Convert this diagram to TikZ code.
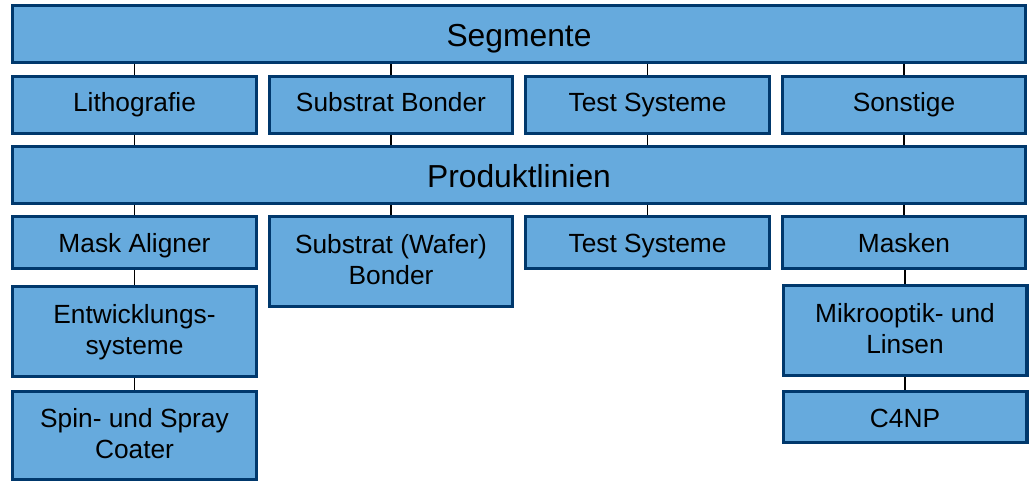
\documentclass[tikz,border=0pt]{standalone}
\usepackage{fontspec}
\setmainfont{Liberation Sans}
\definecolor{boxfill}{RGB}{102,170,221}
\definecolor{boxline}{RGB}{0,56,108}
\tikzset{
  x=1pt, y=1pt,
  bx/.style={draw=boxline, fill=boxfill, line width=3.3pt, inner sep=0pt,
    align=center, font=\fontsize{26.3}{30.3}\selectfont,
    execute at begin node=\strut, execute at end node=\strut},
  lowtext/.style={text height=21pt, text depth=0pt},
  twoline/.style={text depth=4pt},
  bigbx/.style={draw=boxline, fill=boxfill, line width=3.3pt, inner sep=0pt,
    font=\fontsize{31.8}{36}\selectfont, text height=26pt, text depth=0pt},
  conn/.style={draw=black, line width=1.5pt}
}
\begin{document}
\begin{tikzpicture}
\useasboundingbox (0,0) rectangle (1031,-481);
% top level
\node[bigbx, minimum width=1012.7pt, minimum height=56.7pt] (seg) at (519,-34) {Segmente};
% segments
\node[bx, minimum width=243.7pt, minimum height=56.7pt] (lit) at (134.5,-105) {Lithografie};
\node[bx, minimum width=242.7pt, minimum height=56.7pt] (sb) at (391,-105) {Substrat Bonder};
\node[bx, minimum width=243.7pt, minimum height=56.7pt] (ts) at (647.5,-105) {Test Systeme};
\node[bx, minimum width=242.7pt, minimum height=56.7pt] (son) at (904,-105) {Sonstige};
% product lines
\node[bigbx, minimum width=1012.7pt, minimum height=56.7pt] (prod) at (519,-175) {Produktlinien};
\node[bx, lowtext, minimum width=243.7pt, minimum height=51.7pt] (ma) at (134.5,-242.5) {Mask Aligner};
\node[bx, twoline, minimum width=242.7pt, minimum height=89.7pt] (swb) at (391,-261.5) {Substrat (Wafer)\\Bonder};
\node[bx, lowtext, minimum width=243.7pt, minimum height=51.7pt] (ts2) at (647.5,-242.5) {Test Systeme};
\node[bx, lowtext, minimum width=242.7pt, minimum height=51.7pt] (mas) at (904,-242.5) {Masken};
\node[bx, twoline, minimum width=243.7pt, minimum height=89.7pt] (ent) at (134.5,-331.5) {Entwicklungs-\\systeme};
\node[bx, twoline, minimum width=243.7pt, minimum height=87.7pt] (spin) at (134.5,-435.5) {Spin- und Spray\\Coater};
\node[bx, twoline, minimum width=243.7pt, minimum height=89.7pt] (mik) at (905,-330.5) {Mikrooptik- und\\Linsen};
\node[bx, lowtext, minimum width=243.7pt, minimum height=50.7pt] (c4) at (905,-417) {C4NP};
% connectors
\foreach \c in {lit,sb,ts,son}{
  \draw[conn] (seg.south -| \c.north) -- (\c.north);
  \draw[conn] (\c.south) -- (\c.south |- prod.north);
}
\foreach \c in {ma,swb,ts2,mas}{
  \draw[conn] (prod.south -| \c.north) -- (\c.north);
}
\draw[conn] (ma.south) -- (ent.north);
\draw[conn] (ent.south) -- (spin.north);
\draw[conn] (mas.south -| mik.north) -- (mik.north);
\draw[conn] (mik.south) -- (c4.north);
\end{tikzpicture}
\end{document}
